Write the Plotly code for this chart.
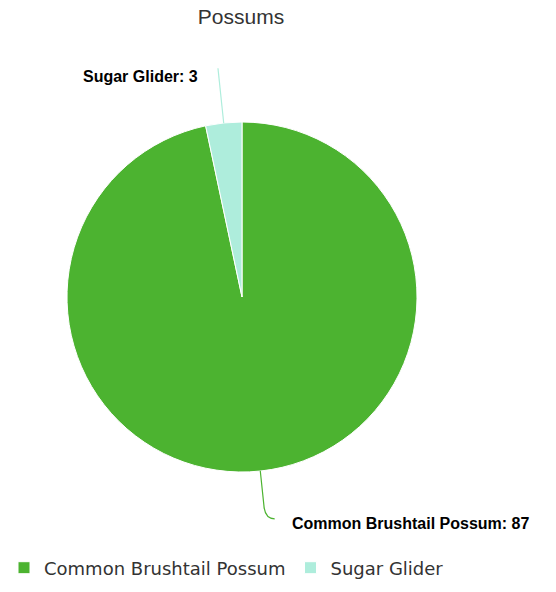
import math
import plotly.graph_objects as go

# ---- data ----
labels = ["Common Brushtail Possum", "Sugar Glider"]
values = [87, 3]
colors = ["#4cb330", "#aeeddc"]
title_text = "Possums"

# ---- layout constants (pixels) ----
W, H = 556, 592
CX, CY, R = 242, 297, 175

def px(x):
    return x / W

def py(y):
    return 1 - y / H

fig = go.Figure()
fig.add_trace(go.Pie(
    labels=labels, values=values, sort=False, direction="clockwise", rotation=0,
    marker=dict(colors=colors, line=dict(color="white", width=1)),
    textinfo="none", hoverinfo="label+value",
    domain=dict(x=[px(CX - R), px(CX + R)], y=[py(CY + R), py(CY - R)]),
))

# leader lines + labels computed from the data (slice mid-angles)
total = sum(values)
cum = 0
shapes = []
annotations = []
# per-slice label style: (extra radius, tail length, label gap, label dy)
label_style = [(42, 10, 15, 5), (55, 0, 18, 8)]
for lab, val, col, (extra, tail, gap, dy) in zip(labels, values, colors, label_style):
    mid = (cum + val / 2) / total * 2 * math.pi
    cum += val
    sx, sy = math.sin(mid), -math.cos(mid)
    x0, y0 = CX + R * sx, CY + R * sy
    x1, y1 = CX + (R + extra) * sx, CY + (R + extra) * sy
    side = 1 if sx >= 0 else -1
    vs = 1 if sy > 0 else -1
    if tail:
        xm, ym = CX + (R + extra - 8) * sx, CY + (R + extra - 8) * sy
        xe, ye = x1 + side * tail, y1 + 6 * vs
        path = (f"M {px(x0)},{py(y0)} L {px(xm)},{py(ym)} "
                f"Q {px(x1)},{py(y1 + 6 * vs)} {px(xe)},{py(ye)}")
    else:
        xe, ye = x1, y1
        path = f"M {px(x0)},{py(y0)} L {px(x1)},{py(y1)}"
    shapes.append(dict(type="path", xref="paper", yref="paper", path=path,
                       line=dict(color=col, width=1.2)))
    annotations.append(dict(
        xref="paper", yref="paper", x=px(xe + side * gap), y=py(ye + dy),
        xanchor="left" if side > 0 else "right", yanchor="middle",
        text=f"<b>{lab}: {val}</b>", showarrow=False,
        font=dict(family="Liberation Sans, Arial", size=16, color="#000000"),
    ))

fig.update_layout(
    width=W, height=H,
    margin=dict(l=0, r=0, t=0, b=0),
    paper_bgcolor="white", plot_bgcolor="white",
    title=dict(text=title_text, x=px(241), xanchor="center", y=py(17), yanchor="middle",
               font=dict(family="Liberation Sans, Arial", size=21, color="#333333")),
    showlegend=True,
    legend=dict(orientation="h", x=px(4), xanchor="left", y=py(568), yanchor="middle",
                font=dict(family="DejaVu Sans", size=18, color="#333333"),
                itemwidth=30, traceorder="normal"),
    shapes=shapes,
    annotations=annotations,
)

fig.write_html("out.html")
